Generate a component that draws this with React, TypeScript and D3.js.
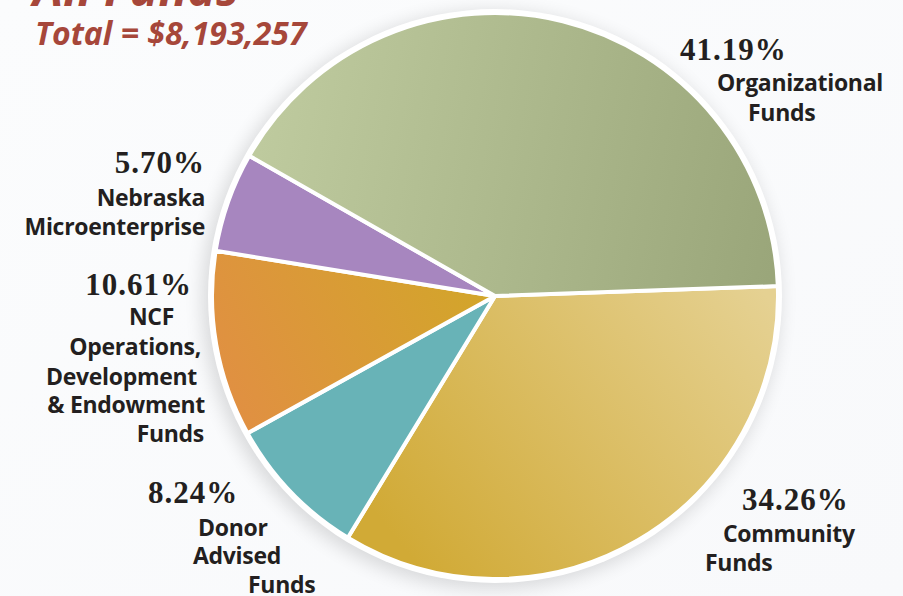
import React from 'react';
import * as d3 from 'd3';

// 数据：按顺时针顺序（从右侧 Community 开始）
const categories = ['Community', 'Donor', 'NCF', 'Nebraska', 'Organizational'];
const shares = [34.26, 8.24, 10.61, 5.7, 41.19];
const percentLabels = ['34.26%', '8.24%', '10.61%', '5.70%', '41.19%'];
const nameLines = [
  ['Community', 'Funds'],
  ['Donor', 'Advised', 'Funds'],
  ['NCF', 'Operations,', 'Development', '& Endowment', 'Funds'],
  ['Nebraska', 'Microenterprise'],
  ['Organizational', 'Funds'],
];
const totalLabel = 'Total = $8,193,257';

const W = 903, H = 596;
const cx = 495, cy = 296, R = 283;

// 标签摆放（每行：anchor, x, baseline）
const labelLayout: [string, number, number][][] = [
  [['start', 742, 510], ['start', 723, 542], ['start', 705, 571]],
  [['start', 148, 503], ['start', 198, 536], ['start', 193, 564], ['start', 248, 593]],
  [['end', 192, 295], ['end', 174, 325], ['end', 201, 355], ['end', 197, 385], ['end', 205, 413], ['end', 204, 442]],
  [['end', 205, 173], ['end', 205, 206], ['end', 205, 235]],
  [['start', 680, 60], ['start', 717, 91], ['start', 748, 121]],
];

const fills = ['url(#gCommunity)', '#68b3b7', 'url(#gNCF)', '#a786bf', 'url(#gOrg)'];

export default function App() {
  const start = (88 * Math.PI) / 180;
  const pie = d3.pie<number>().value(d => d).sort(null).startAngle(start).endAngle(start + 2 * Math.PI);
  const arcs = pie(shares);
  const arc = d3.arc<d3.PieArcDatum<number>>().innerRadius(0).outerRadius(R);

  // 渐变坐标是相对于饼图中心的
  const rel = (x: number, y: number) => ({ x: x - cx, y: y - cy });
  const o1 = rel(250, 120), o2 = rel(780, 230);
  const c1 = rel(770, 300), c2 = rel(430, 580);
  const n1 = rel(490, 290), n2 = rel(230, 425);

  const sans = "'Open Sans', Lato, sans-serif";

  return (
    <>
      <style>{'body{margin:0}'}</style>
      <svg width={W} height={H} style={{ display: 'block' }}>
        <defs>
          <linearGradient id="bg" x1="0" y1="0" x2="1" y2="1">
            <stop offset="0" stopColor="#fbfcfd" />
            <stop offset="1" stopColor="#f8f9fb" />
          </linearGradient>
          <linearGradient id="gOrg" gradientUnits="userSpaceOnUse" x1={o1.x} y1={o1.y} x2={o2.x} y2={o2.y}>
            <stop offset="0" stopColor="#bfcb9f" />
            <stop offset="1" stopColor="#9aa67a" />
          </linearGradient>
          <linearGradient id="gCommunity" gradientUnits="userSpaceOnUse" x1={c1.x} y1={c1.y} x2={c2.x} y2={c2.y}>
            <stop offset="0" stopColor="#e5d192" />
            <stop offset="1" stopColor="#d1aa36" />
          </linearGradient>
          <linearGradient id="gNCF" gradientUnits="userSpaceOnUse" x1={n1.x} y1={n1.y} x2={n2.x} y2={n2.y}>
            <stop offset="0" stopColor="#d2a62a" />
            <stop offset="1" stopColor="#e18f43" />
          </linearGradient>
          <filter id="shadow" x="-20%" y="-20%" width="140%" height="140%">
            <feGaussianBlur stdDeviation="9" />
          </filter>
        </defs>
        <rect width={W} height={H} fill="url(#bg)" />

        {/* 饼图阴影 */}
        <circle cx={cx - 4} cy={cy + 4} r={R + 6} fill="#000" opacity={0.13} filter="url(#shadow)" />
        <circle cx={cx} cy={cy} r={R + 4} fill="#fff" />

        <g transform={`translate(${cx},${cy})`}>
          {arcs.map((a, i) => (
            <path key={categories[i]} d={arc(a) || ''} fill={fills[i]} stroke="#fff" strokeWidth={4} strokeLinejoin="round" />
          ))}
        </g>

        {/* 标题 */}
        <g fill="#a6473a" fontFamily={sans} fontWeight="bold" fontStyle="italic">
          <text x={33} y={6} fontSize={48}>All Funds</text>
          <text x={35} y={45} fontSize={32}>{totalLabel}</text>
        </g>

        {/* 标签 */}
        {categories.map((c, i) => {
          const lay = labelLayout[i];
          return (
            <g key={c} fill="#231f20">
              <text x={lay[0][1]} y={lay[0][2]} textAnchor={lay[0][0]}
                fontFamily="'Liberation Serif', serif" fontWeight="bold" fontSize={31} letterSpacing={1}>
                {percentLabels[i]}
              </text>
              {nameLines[i].map((t, j) => (
                <text key={j} x={lay[j + 1][1]} y={lay[j + 1][2]} textAnchor={lay[j + 1][0]}
                  fontFamily={sans} fontWeight="bold" fontSize={23} letterSpacing={-0.3}>
                  {t}
                </text>
              ))}
            </g>
          );
        })}
      </svg>
    </>
  );
}
